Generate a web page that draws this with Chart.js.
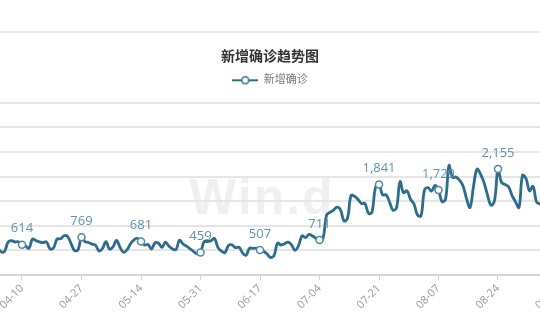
<!DOCTYPE html>
<html>
<head>
<meta charset="utf-8">
<script src="https://cdn.jsdelivr.net/npm/chart.js@4.4.1/dist/chart.umd.min.js"></script>
<style>
  html, body { margin: 0; padding: 0; background: #fff; }
  #wrap { position: relative; width: 540px; height: 320px; overflow: hidden; }
  #topline { position: absolute; left: 0; right: 0; top: 31px; height: 2px; background: #e6e6e6; }
  #mark { position: absolute; left: 189px; top: 168px; font: bold 50px "Liberation Sans", Arial, sans-serif;
          color: #f0f0f0; letter-spacing: 2px; white-space: nowrap; }
  #chart { position: absolute; left: -60px; top: 0; }
</style>
</head>
<body>
<div id="wrap">
  <div id="topline"></div>
  <div id="mark">Win.d</div>
  <canvas id="chart" width="660" height="320"></canvas>
</div>
<script>
const FONT = '"Open Sans", "Noto Sans CJK SC", sans-serif';
const LINE_COLOR = '#2c6d8b';

// daily values, first one is 04-01
const startMonth = 4, startDay = 1;
const aprCases = [558, 543, 543, 473, 478, 668, 700, 671, 677, 614, 587, 542, 731, 698, 673,
                  658, 672, 532, 549, 731, 735, 797, 785, 644, 499, 512, 769, 680, 661, 627];
const mayCases = [606, 488, 541, 676, 525, 574, 701, 564, 463, 511, 635, 715, 747, 681, 610, 619,
                  528, 654, 646, 561, 666, 585, 530, 516, 707, 629, 587, 533, 480, 430, 459];
const junCases = [677, 681, 695, 744, 556, 485, 454, 602, 611, 556, 565, 452, 399, 545, 540,
                  545, 507, 482, 429, 357, 395, 645, 610, 634, 668, 614, 501, 595, 794, 762];
const julCases = [826, 794, 743, 711, 746, 1212, 1275, 1316, 1378, 1324, 1100, 1150, 1615, 1599, 1536, 1455,
                  1454, 1252, 1278, 1784, 1841, 1630, 1629, 1487, 1318, 1365, 1896, 1674, 1710, 1539, 1442];
const augCases = [1219, 1202, 1725, 1776, 1704, 1823, 1729, 1492, 1537, 2223, 1987, 1990, 1930, 1816, 1556, 1372,
                  1805, 2152, 2052, 1880, 1626, 1418, 1507, 2155, 1882, 1840, 1793, 1619, 1487, 1372, 2025];
const sepCases = [1961, 1709, 1804, 1490, 1440, 1400];
const newCases = [].concat(aprCases, mayCases, junCases, julCases, augCases, sepCases);

const tickDates = ['04-10', '04-27', '05-14', '05-31', '06-17', '07-04', '07-21', '08-07', '08-24', '09-10'];
const labelDates = ['04-10', '04-27', '05-14', '05-31', '06-17', '07-04', '07-21', '08-07', '08-24'];

const DAY = 86400000;
const t0 = Date.UTC(2021, startMonth - 1, startDay);
function dayIndex(md) {
  const [m, d] = md.split('-').map(Number);
  return Math.round((Date.UTC(2021, m - 1, d) - t0) / DAY);
}
function mmdd(i) {
  const d = new Date(t0 + i * DAY);
  return String(d.getUTCMonth() + 1).padStart(2, '0') + '-' + String(d.getUTCDate()).padStart(2, '0');
}

// canvas is 660 wide and starts 60px left of the page, 3.5px per day
const PX_PER_DAY = 3.5;
const xMin = dayIndex('04-10') - (22 + 60) / PX_PER_DAY;
const xMax = xMin + 660 / PX_PER_DAY;

const labelIdx = new Set(labelDates.map(dayIndex));

function legendIcon() {
  const c = document.createElement('canvas');
  c.width = 26; c.height = 10;
  const g = c.getContext('2d');
  g.strokeStyle = LINE_COLOR;
  g.lineWidth = 2;
  g.beginPath(); g.moveTo(0, 5); g.lineTo(26, 5); g.stroke();
  g.beginPath(); g.arc(13, 5, 3.5, 0, Math.PI * 2);
  g.fillStyle = '#fff'; g.fill();
  g.lineWidth = 1.5; g.stroke();
  return c;
}

// value text above the marked points
const valueLabels = {
  id: 'valueLabels',
  afterDatasetsDraw(chart) {
    const meta = chart.getDatasetMeta(0);
    const ctx = chart.ctx;
    ctx.save();
    ctx.font = '13px ' + FONT;
    ctx.fillStyle = '#6192ad';
    ctx.textAlign = 'center';
    ctx.textBaseline = 'middle';
    labelDates.forEach(md => {
      const i = dayIndex(md);
      const pt = meta.data[i];
      if (!pt) return;
      ctx.fillText(newCases[i].toLocaleString('en-US'), pt.x, pt.y - 16);
    });
    ctx.restore();
  }
};

// a bit of room between legend and plot
const legendGap = {
  id: 'legendGap',
  beforeLayout(chart) {
    const lg = chart.legend;
    if (lg && !lg._gap) {
      const fit = lg.fit;
      lg.fit = function () { fit.call(this); this.height += 7; };
      lg._gap = true;
    }
  }
};

new Chart(document.getElementById('chart'), {
  type: 'line',
  data: {
    datasets: [{
      label: '新增确诊',
      data: newCases.map((v, i) => ({ x: i, y: v })),
      borderColor: LINE_COLOR,
      borderWidth: 2.8,
      tension: 0.4,
      fill: false,
      pointRadius: ctx => labelIdx.has(ctx.dataIndex) ? 3.5 : 0,
      pointHoverRadius: 0,
      pointBackgroundColor: '#fff',
      pointBorderColor: '#4a88a6',
      pointBorderWidth: 1.5
    }]
  },
  options: {
    responsive: false,
    animation: false,
    devicePixelRatio: 1,
    layout: { padding: 0, autoPadding: false },
    plugins: {
      title: {
        display: true,
        text: '新增确诊趋势图',
        color: '#333',
        font: { size: 14, weight: 'bold', family: FONT },
        padding: { top: 49, bottom: 6 }
      },
      legend: {
        display: true,
        labels: {
          usePointStyle: true,
          pointStyleWidth: 26,
          color: '#777',
          font: { size: 11, family: FONT },
          padding: 3,
          generateLabels: () => [{
            text: '新增确诊',
            pointStyle: legendIcon(),
            fillStyle: '#fff',
            strokeStyle: LINE_COLOR,
            lineWidth: 0,
            fontColor: '#777',
            datasetIndex: 0,
            hidden: false
          }]
        }
      },
      tooltip: { enabled: false }
    },
    scales: {
      x: {
        type: 'linear',
        min: xMin,
        max: xMax,
        afterFit: s => { s.height = 45; },
        afterBuildTicks: s => { s.ticks = tickDates.map(md => ({ value: dayIndex(md) })); },
        ticks: {
          autoSkip: false,
          minRotation: 45,
          maxRotation: 45,
          padding: 2,
          color: '#999',
          font: { size: 11, family: FONT },
          callback: v => mmdd(v)
        },
        grid: { drawOnChartArea: false, drawTicks: true, tickLength: 5, color: '#d4d4d4' },
        border: { display: true, color: '#d6d6d6', width: 2 }
      },
      y: {
        min: 0,
        max: 3500,
        afterFit: s => { s.width = 0; },
        ticks: { display: false, stepSize: 500 },
        grid: { color: '#e6e6e6', lineWidth: 2, drawTicks: false },
        border: { display: false }
      }
    }
  },
  plugins: [legendGap, valueLabels]
});
</script>
</body>
</html>
